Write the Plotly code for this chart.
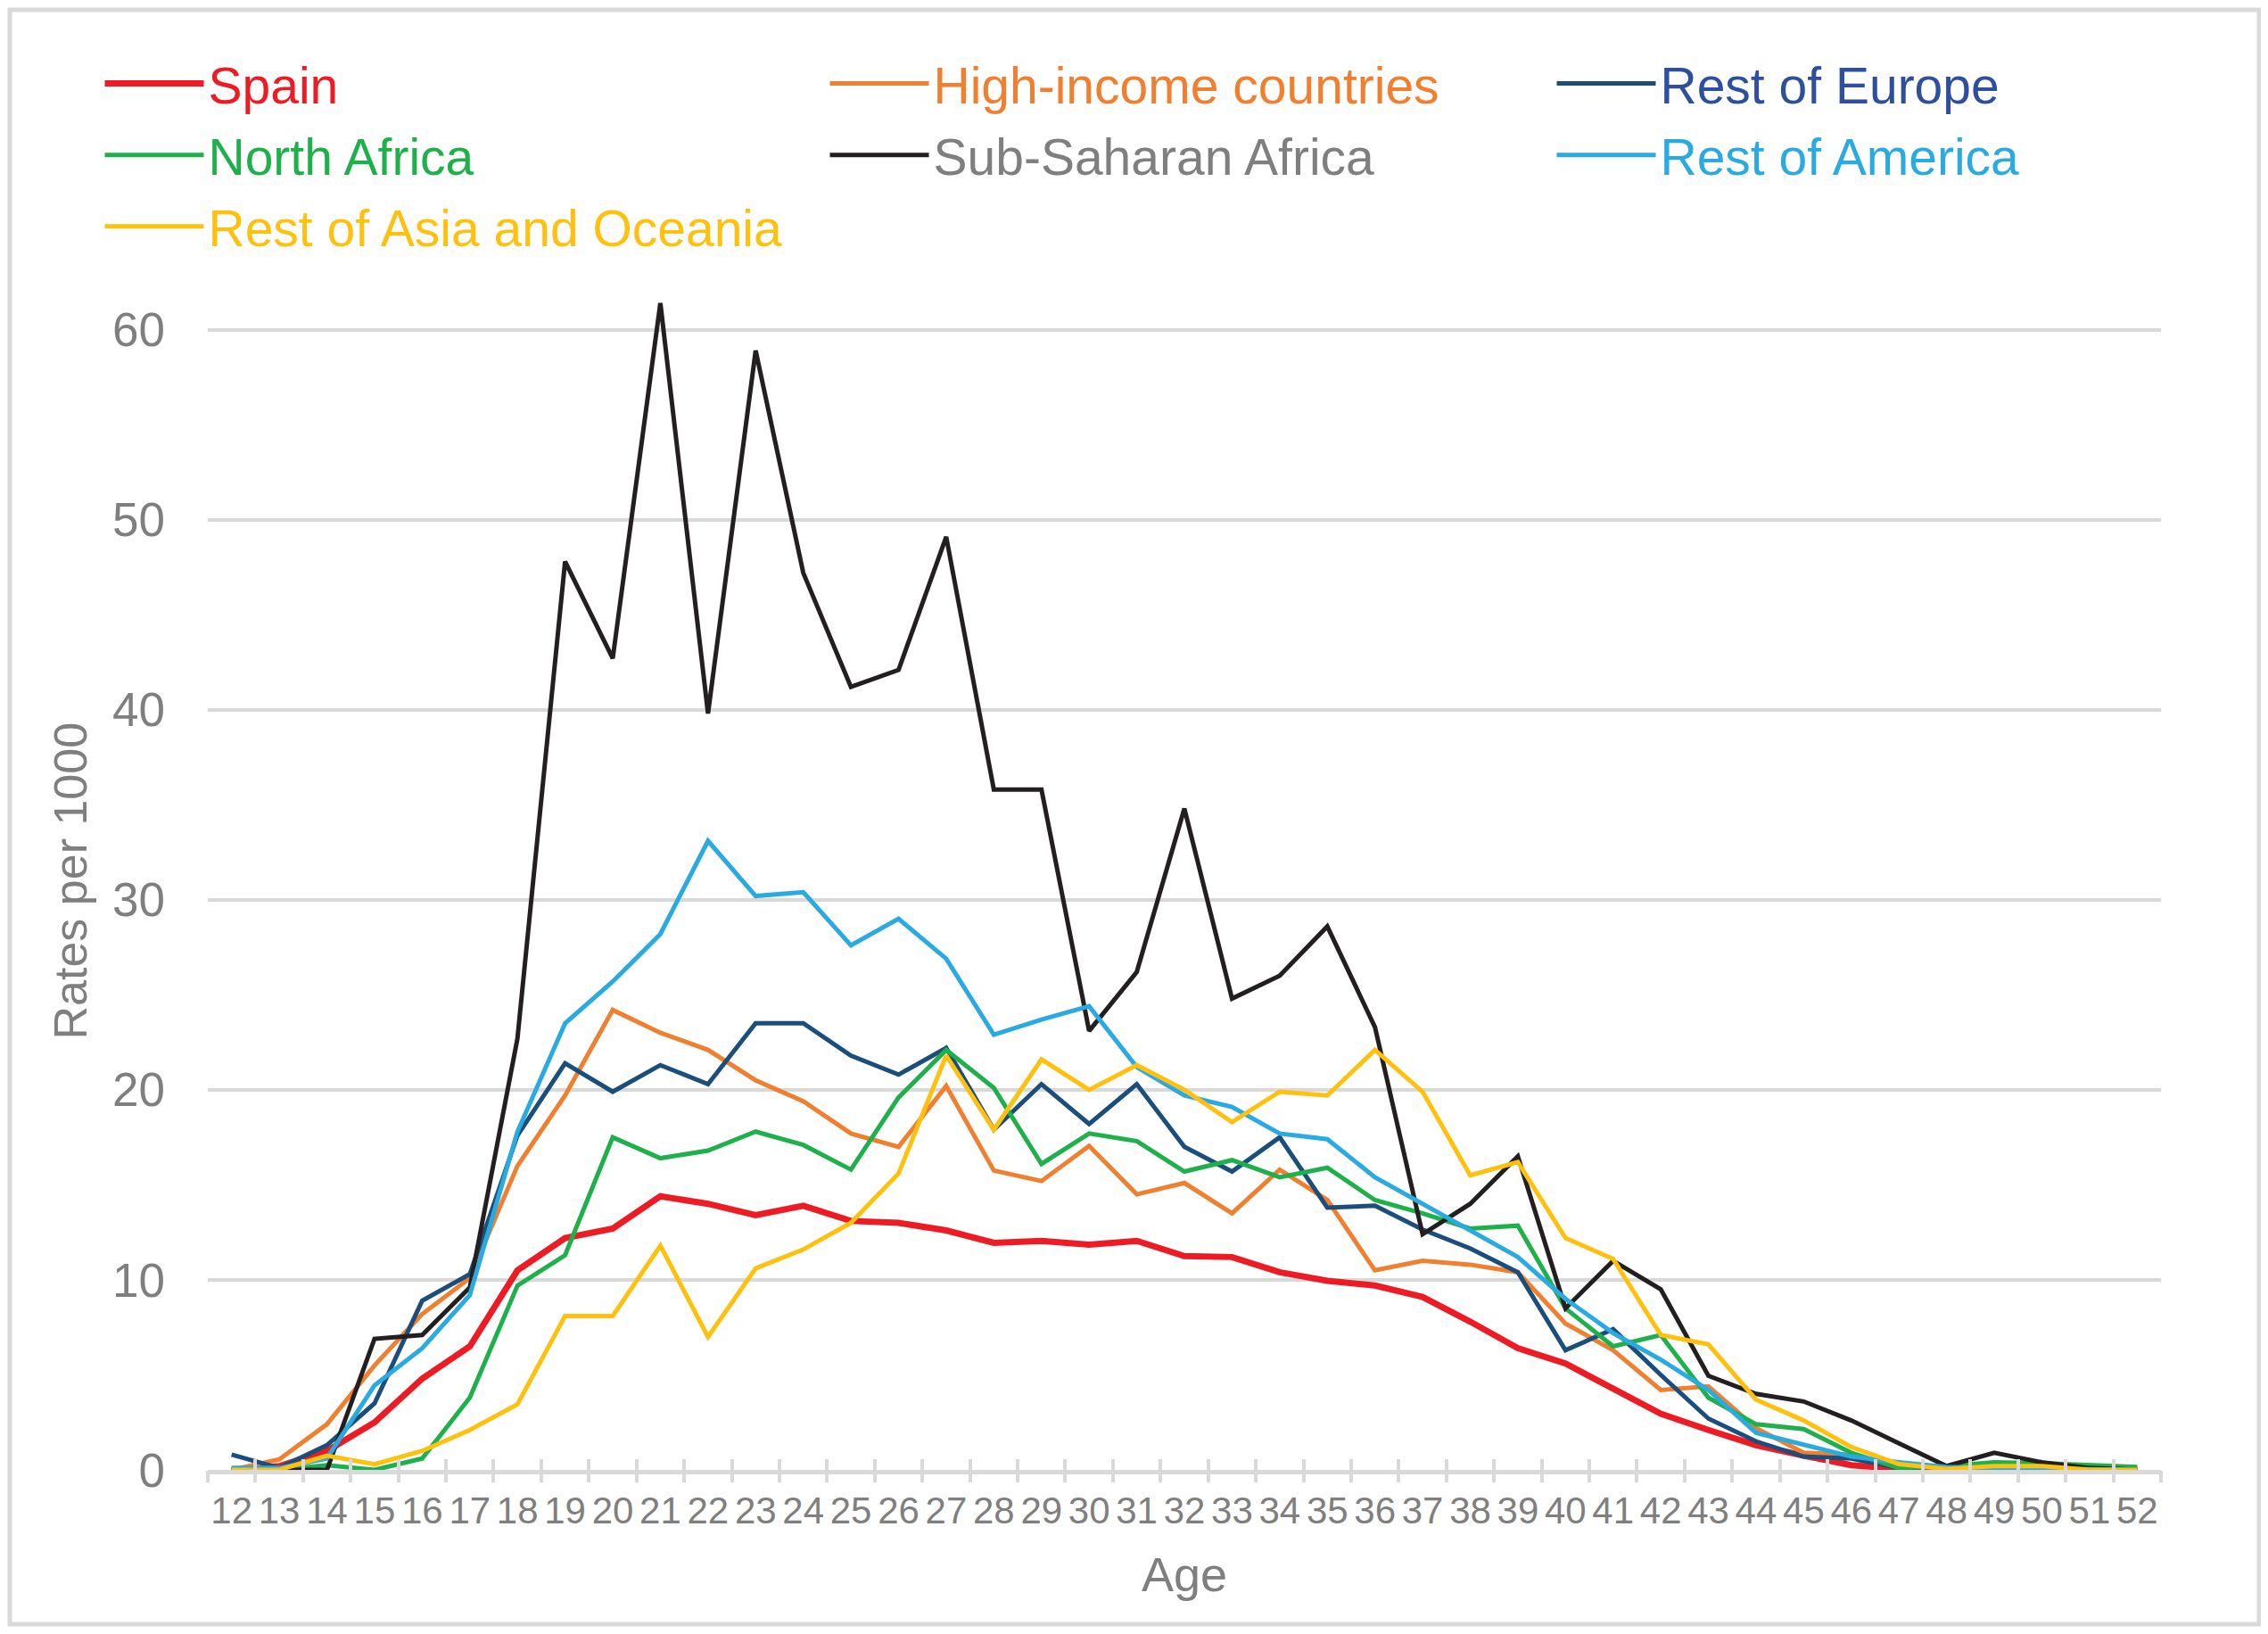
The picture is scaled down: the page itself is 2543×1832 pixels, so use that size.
import plotly.graph_objects as go

ages = list(range(12, 53))
age_labels = [str(a) for a in ages]

spain = [0.0, 0.2, 1.0, 2.5, 4.8, 6.5, 10.5, 12.2, 12.7, 14.4, 14.0, 13.4, 13.9, 13.1, 13.0, 12.6,
         11.95, 12.05, 11.85, 12.05, 11.25, 11.2, 10.4, 9.95, 9.7, 9.1, 7.8, 6.4, 5.6, 4.3, 2.95,
         2.1, 1.3, 0.75, 0.25, 0.05, 0.0, 0.0, 0.0, 0.0, 0.05]
high_income = [0.0, 0.55, 2.4, 5.5, 8.2, 10.1, 16.0, 19.7, 24.2, 23.0, 22.1, 20.5, 19.4, 17.7, 17.0,
               20.2, 15.75, 15.2, 17.05, 14.5, 15.1, 13.5, 15.8, 14.2, 10.5, 11.0, 10.8, 10.4, 7.7,
               6.3, 4.2, 4.4, 2.2, 0.9, 0.8, 0.1, 0.0, 0.0, 0.0, 0.0, 0.0]
rest_europe = [0.8, 0.1, 1.3, 3.5, 8.9, 10.3, 17.6, 21.4, 19.9, 21.3, 20.3, 23.5, 23.5, 21.8, 20.8,
               22.2, 17.9, 20.3, 18.2, 20.3, 17.0, 15.7, 17.5, 13.8, 13.9, 12.65, 11.65, 10.4, 6.3,
               7.4, 5.0, 2.7, 1.5, 0.7, 0.6, 0.1, 0.15, 0.0, 0.0, 0.0, 0.0]
north_africa = [0.0, 0.0, 0.25, 0.0, 0.6, 3.8, 9.7, 11.3, 17.5, 16.4, 16.8, 17.8, 17.1, 15.8, 19.6,
                22.1, 20.1, 16.1, 17.7, 17.3, 15.7, 16.3, 15.4, 15.9, 14.2, 13.5, 12.7, 12.85, 8.5,
                6.5, 7.1, 3.8, 2.4, 2.15, 0.9, 0.1, 0.2, 0.4, 0.35, 0.25, 0.15]
sub_saharan = [0.0, 0.0, 0.0, 6.9, 7.1, 9.6, 22.7, 47.8, 42.7, 61.4, 39.8, 58.9, 47.2, 41.2, 42.1,
               49.1, 35.8, 35.8, 23.1, 26.2, 34.8, 24.8, 26.0, 28.6, 23.3, 12.4, 14.0, 16.5, 8.5,
               11.0, 9.5, 4.95, 4.0, 3.6, 2.6, 1.4, 0.2, 0.9, 0.4, 0.1, 0.0]
rest_america = [0.1, 0.1, 0.6, 4.45, 6.4, 9.2, 17.8, 23.5, 25.7, 28.2, 33.1, 30.2, 30.4, 27.6, 29.0,
                26.9, 22.9, 23.7, 24.4, 21.2, 19.7, 19.1, 17.7, 17.4, 15.4, 14.0, 12.6, 11.2, 9.0,
                7.2, 5.8, 4.2, 1.95, 1.3, 0.7, 0.4, 0.15, 0.1, 0.05, 0.0, 0.0]
rest_asia = [0.0, 0.0, 0.75, 0.3, 1.0, 2.1, 3.45, 8.1, 8.1, 11.8, 7.0, 10.6, 11.6, 13.0, 15.6, 21.8,
             17.9, 21.6, 20.0, 21.3, 20.0, 18.3, 19.9, 19.7, 22.1, 19.9, 15.5, 16.2, 12.2, 11.1,
             7.1, 6.6, 3.7, 2.6, 1.2, 0.3, 0.05, 0.2, 0.2, 0.0, 0.0]

y_ticks = [0, 10, 20, 30, 40, 50, 60]

series = [
    ("Spain", spain, "#ED1C24", "#ED1C24", 7, "legend"),
    ("High-income countries", high_income, "#F0802F", "#F0802F", 5, "legend2"),
    ("Rest of Europe", rest_europe, "#1B4E7B", "#2D4F9D", 5, "legend3"),
    ("North Africa", north_africa, "#1DB04B", "#1DB04B", 5, "legend"),
    ("Sub-Saharan Africa", sub_saharan, "#231F20", "#7F7F7F", 5, "legend2"),
    ("Rest of America", rest_america, "#29AAE1", "#29AAE1", 5, "legend3"),
    ("Rest of Asia and Oceania", rest_asia, "#FFC10E", "#FFC10E", 5, "legend"),
]

W, H = 2543, 1832
OFF = 8  # page body margin shifts the figure by this many pixels
L, T = 233 - OFF, 327 - OFF
R = W - (2423 - OFF)
B = H - (1648 - OFF)
pw, ph = W - L - R, H - T - B

fig = go.Figure()
for name, vals, lc, tc, lw, lg in series:
    fig.add_trace(go.Scatter(
        x=ages, y=vals, mode="lines",
        name=f'<span style="color:{tc}">{name}</span>',
        line=dict(color=lc, width=lw),
        legend=lg, legendgroup=name, hoverinfo="skip",
    ))

# invisible carriers for the boundary-tick overlay axes
for xa in ("x2", "x3"):
    fig.add_trace(go.Scatter(x=ages, y=spain, mode="lines", xaxis=xa, yaxis="y",
                             line=dict(width=0, color="rgba(0,0,0,0)"),
                             showlegend=False, hoverinfo="skip"))

FONT = "Liberation Sans, Arial, sans-serif"
GRAY = "#7F7F7F"
GRID = "#D9D9D9"

boundaries = [a - 0.5 for a in ages] + [ages[-1] + 0.5]
xr = [ages[0] - 0.5, ages[-1] + 0.5]

def leg(xpx, ypx):
    return dict(xref="container", yref="container", x=xpx / W, y=1 - ypx / H,
                xanchor="left", yanchor="top", orientation="v",
                font=dict(size=57, family=FONT), itemwidth=111,
                bgcolor="rgba(0,0,0,0)", tracegroupgap=3)

fig.update_layout(
    width=W, height=H,
    margin=dict(l=L, r=R, t=T, b=B, autoexpand=False),
    paper_bgcolor="white", plot_bgcolor="white",
    font=dict(family=FONT, color=GRAY),
    showlegend=True,
    legend=leg(104.5, 42),
    legend2=leg(917.5, 42),
    legend3=leg(1732.5, 42),
    xaxis=dict(
        range=xr, tickmode="array", tickvals=ages, ticktext=age_labels,
        ticks="", showgrid=False, zeroline=False, automargin=False,
        showline=True, linecolor=GRID, linewidth=4.5,
        tickfont=dict(size=42, color=GRAY, family=FONT),
        ticklabelstandoff=5,
        title=dict(text="Age", font=dict(size=54, color=GRAY, family=FONT), standoff=32),
    ),
    xaxis2=dict(
        range=xr, overlaying="x", anchor="y", side="bottom", automargin=False,
        tickmode="array", tickvals=boundaries, ticks="outside", ticklen=13,
        tickwidth=4, tickcolor=GRID, showticklabels=False, showgrid=False,
        zeroline=False, showline=False,
    ),
    xaxis3=dict(
        range=xr, overlaying="x", anchor="y", side="bottom", automargin=False,
        tickmode="array", tickvals=boundaries, ticks="inside", ticklen=12,
        tickwidth=4, tickcolor=GRID, showticklabels=False, showgrid=False,
        zeroline=False, showline=False,
    ),
    yaxis=dict(
        range=[0, 62], tickmode="array", tickvals=y_ticks, automargin=False,
        ticks="", showgrid=True, gridcolor=GRID, gridwidth=4,
        zeroline=False, showline=False,
        tickfont=dict(size=53, color=GRAY, family=FONT),
        ticklabelstandoff=47,
    ),
)

def px_to_paper_x(p):
    return (p - OFF - L) / pw

def py_to_paper_y(p):
    return (H - B - (p - OFF)) / ph

fig.add_annotation(text="Rates per 1000", textangle=-90, showarrow=False,
                   xref="paper", yref="paper", x=px_to_paper_x(78), y=0.5,
                   xanchor="center", yanchor="middle",
                   font=dict(size=52, color=GRAY, family=FONT))

fig.add_shape(type="rect", xref="paper", yref="paper",
              x0=px_to_paper_x(11), x1=px_to_paper_x(2533),
              y0=py_to_paper_y(1821), y1=py_to_paper_y(11),
              line=dict(color=GRID, width=5), fillcolor="rgba(0,0,0,0)", layer="below")

fig.write_html("out.html")
